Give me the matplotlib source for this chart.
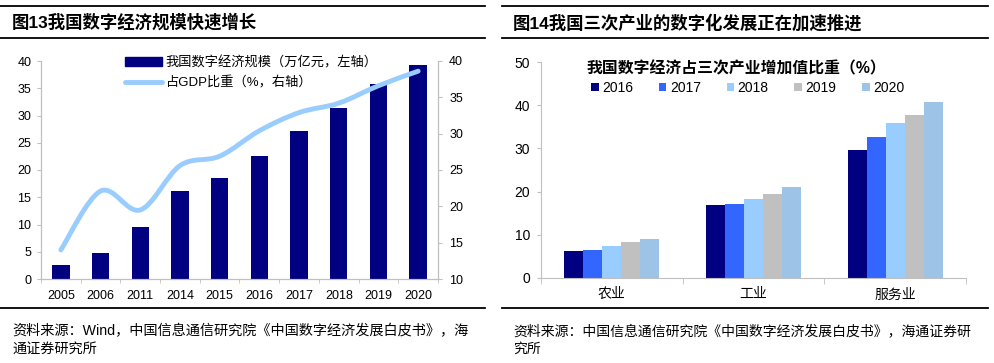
import numpy as np
import matplotlib
matplotlib.use('Agg')
import matplotlib.pyplot as plt
from matplotlib.path import Path
from matplotlib.patches import PathPatch, Patch
from matplotlib.lines import Line2D

plt.rcParams['font.family'] = ['Liberation Sans', 'Noto Sans CJK SC', 'DejaVu Sans']

# ---- data: fig 13 ----
years = ['2005', '2006', '2011', '2014', '2015', '2016', '2017', '2018', '2019', '2020']
scale = [2.6, 4.8, 9.5, 16.2, 18.6, 22.6, 27.2, 31.3, 35.8, 39.2]      # 万亿元
gdp_share = [14.0, 22.1, 19.5, 25.6, 26.9, 30.4, 32.9, 34.2, 36.6, 38.6]  # %

# ---- data: fig 14 ----
sectors = ['农业', '工业', '服务业']
share_years = ['2016', '2017', '2018', '2019', '2020']
agri = [6.2, 6.5, 7.3, 8.2, 8.9]
industry = [16.8, 17.2, 18.3, 19.5, 21.0]
services = [29.6, 32.6, 35.9, 37.8, 40.7]
year_colors = ['#000080', '#3366FF', '#99CCFF', '#C0C0C0', '#9DC3E6']

W, H = 995, 363
def fx(px):
    return px / W
def fy(py):
    return 1 - py / H

fig = plt.figure(figsize=(W / 100, H / 100), dpi=100)
grey = '#BFBFBF'

# frame lines
for x0, x1 in [(0, 485), (502, 988)]:
    for yy in [6, 38, 308]:
        fig.add_artist(Line2D([fx(x0), fx(x1)], [fy(yy), fy(yy)], color='black', lw=1.3))

fig.text(fx(12), fy(22), '图13我国数字经济规模快速增长', fontsize=12.5, fontweight='bold', va='center')
fig.text(fx(513), fy(23), '图14我国三次产业的数字化发展正在加速推进', fontsize=12.5, fontweight='bold', va='center')

fig.text(fx(12), fy(331), '资料来源：Wind，中国信息通信研究院《中国数字经济发展白皮书》，海', fontsize=10.2, va='center')
fig.text(fx(12), fy(349), '通证券研究所', fontsize=10.2, va='center')
fig.text(fx(513), fy(331), '资料来源：中国信息通信研究院《中国数字经济发展白皮书》，海通证券研', fontsize=10, va='center')
fig.text(fx(513), fy(349), '究所', fontsize=10, va='center')

# ---------------- left chart ----------------
ax = fig.add_axes([fx(41), fy(279), (438 - 41) / W, (279 - 61) / H])
x = np.arange(len(years))
ax.bar(x, scale, width=0.44, color='#000080', zorder=2)
ax.set_xlim(-0.5, len(years) - 0.5)
ax.set_ylim(0, 40)
ax.set_yticks(range(0, 41, 5))
ax.set_xticks(x)
ax.set_xticklabels(years)
ax.set_xticks(np.arange(-0.5, len(years), 1), minor=True)
ax.tick_params(axis='x', which='major', length=0, pad=8, labelsize=9)
ax.tick_params(axis='x', which='minor', length=3, color=grey, direction='out')
ax.tick_params(axis='y', length=3, color=grey, pad=4, labelsize=9)
ax.spines['top'].set_visible(False)
for s in ['left', 'bottom', 'right']:
    ax.spines[s].set_color(grey)

ax2 = ax.twinx()
ax2.set_ylim(10, 40)
ax2.set_yticks(range(10, 41, 5))
ax2.tick_params(axis='y', length=3, color=grey, pad=5, labelsize=9)
ax2.spines['top'].set_visible(False)
for s in ['left', 'bottom', 'right']:
    ax2.spines[s].set_color(grey)

# smoothed line (Bezier through the data points)
pts = np.column_stack([x, gdp_share]).astype(float)
ext = np.vstack([pts[0], pts, pts[-1]])
verts = [pts[0]]
codes = [Path.MOVETO]
for i in range(len(pts) - 1):
    p0, p1, p2, p3 = ext[i], ext[i + 1], ext[i + 2], ext[i + 3]
    verts += [p1 + (p2 - p0) / 6, p2 - (p3 - p1) / 6, p2]
    codes += [Path.CURVE4] * 3
ax2.add_patch(PathPatch(Path(verts, codes), fill=False, edgecolor='#99CCFF', lw=3.5, capstyle='round', zorder=3))

handles = [Patch(color='#000080'), Line2D([], [], color='#99CCFF', lw=3.5, solid_capstyle='round')]
ax.legend(handles, ['我国数字经济规模（万亿元，左轴）', '占GDP比重（%，右轴）'],
          loc='upper left', bbox_to_anchor=(fx(125), fy(56)), bbox_transform=fig.transFigure,
          frameon=False, borderpad=0, borderaxespad=0, fontsize=9.5,
          handlelength=2.8, handletextpad=0.3, labelspacing=0.55)

# ---------------- right chart ----------------
bx = fig.add_axes([fx(541), fy(277.7), (966 - 541) / W, (277.7 - 62.3) / H])
gx = np.arange(len(sectors))
series = np.array([agri, industry, services]).T
bw = 0.134
for i, yr in enumerate(share_years):
    bx.bar(gx + (i - 2) * bw, series[i], width=bw, color=year_colors[i], label=yr, zorder=2)
bx.set_xlim(-0.5, len(sectors) - 0.5)
bx.set_ylim(0, 50)
bx.set_yticks(range(0, 51, 10))
bx.set_xticks(gx)
bx.set_xticklabels(sectors)
bx.set_xticks(np.arange(-0.5, len(sectors), 1), minor=True)
bx.tick_params(axis='x', which='major', length=0, pad=7, labelsize=10)
bx.tick_params(axis='x', which='minor', length=4, color=grey)
bx.tick_params(axis='y', length=3, color=grey, pad=5, labelsize=10)
for s in ['top', 'right']:
    bx.spines[s].set_visible(False)
for s in ['left', 'bottom']:
    bx.spines[s].set_color(grey)

fig.text(fx(587), fy(69), '我国数字经济占三次产业增加值比重（%）', fontsize=11.4, fontweight='bold', va='center')
bx.legend(loc='center left', bbox_to_anchor=(fx(591), fy(88)), bbox_transform=fig.transFigure,
          ncol=5, frameon=False, borderpad=0, borderaxespad=0, fontsize=10,
          handlelength=0.55, handleheight=0.55, handletextpad=0.25, columnspacing=1.85)

fig.savefig('out.png', dpi=100)
